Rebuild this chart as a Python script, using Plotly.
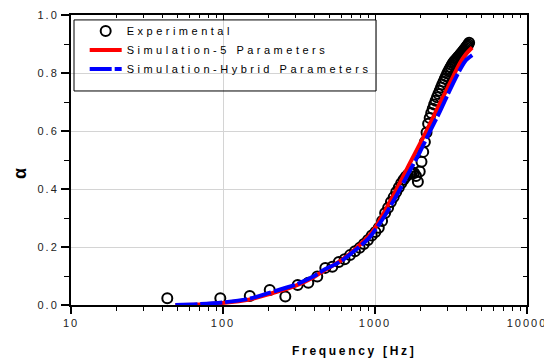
import plotly.graph_objects as go

# ---------------- data ----------------
freq_exp = [43, 96, 150, 203, 257, 310, 364, 417, 471, 524, 578, 631, 685, 738, 792,
            845, 899, 952, 1006, 1059, 1113, 1166, 1220, 1273, 1327, 1380, 1434, 1487,
            1541, 1594, 1648, 1701, 1755, 1808, 1862, 1915, 1969, 2022, 2076, 2129,
            2183, 2236, 2290, 2343, 2397, 2450, 2504, 2557, 2611, 2664, 2718, 2771,
            2825, 2878, 2932, 2985, 3039, 3092, 3146, 3199, 3253, 3306, 3360, 3413,
            3467, 3520, 3574, 3627, 3681, 3734, 3788, 3841, 3895, 3948, 4002, 4055,
            4109, 4163]
alpha_exp = [0.023, 0.023, 0.031, 0.052, 0.029, 0.069, 0.077, 0.098, 0.128, 0.132,
             0.148, 0.158, 0.172, 0.185, 0.197, 0.210, 0.224, 0.240, 0.252, 0.266,
             0.290, 0.317, 0.335, 0.355, 0.372, 0.390, 0.405, 0.420, 0.432, 0.442,
             0.450, 0.455, 0.458, 0.455, 0.445, 0.425, 0.460, 0.494, 0.528, 0.562,
             0.595, 0.625, 0.645, 0.662, 0.677, 0.691, 0.704, 0.716, 0.728, 0.739,
             0.750, 0.760, 0.770, 0.780, 0.789, 0.798, 0.806, 0.814, 0.821, 0.828,
             0.834, 0.839, 0.843, 0.847, 0.851, 0.855, 0.859, 0.863, 0.867, 0.871,
             0.875, 0.879, 0.883, 0.887, 0.891, 0.895, 0.899, 0.904]

freq_sim = [48.6, 70, 99.6, 150, 196, 296, 395, 465, 584, 730, 918, 1006, 1154,
            1448, 1683, 1963, 2290, 2670, 3110, 3630, 3980, 4360]
alpha_sim5 = [0.0, 0.002, 0.007, 0.019, 0.036, 0.065, 0.096, 0.120, 0.150, 0.190,
              0.240, 0.268, 0.322, 0.418, 0.486, 0.553, 0.623, 0.695, 0.765, 0.835,
              0.866, 0.888]
alpha_hybrid = [0.0, 0.003, 0.009, 0.022, 0.040, 0.069, 0.099, 0.122, 0.148, 0.186,
                0.232, 0.260, 0.306, 0.396, 0.460, 0.525, 0.597, 0.667, 0.742, 0.812,
                0.845, 0.862]

x_tick_vals = [10, 100, 1000, 10000]
x_tick_text = ["10", "100", "1000", "10000"]
y_tick_vals = [0.0, 0.2, 0.4, 0.6, 0.8, 1.0]
y_tick_text = ["0.0", "0.2", "0.4", "0.6", "0.8", "1.0"]

series_names = ["Experimental", "Simulation-5 Parameters", "Simulation-Hybrid Parameters"]

FONT = "Arial, Liberation Sans, sans-serif"


def spaced(t, ls):
    return '<span style="letter-spacing:%spx">%s</span>' % (ls, t)


fig = go.Figure()
fig.add_trace(go.Scatter(
    x=freq_exp, y=alpha_exp, mode="markers", name=spaced(series_names[0], 3.5),
    marker=dict(symbol="circle-open", size=10, color="black",
                line=dict(width=2, color="black"))))
fig.add_trace(go.Scatter(
    x=freq_sim, y=alpha_sim5, mode="lines", name=spaced(series_names[1], 3.5),
    line=dict(color="#ff0000", width=4, shape="spline", smoothing=0.9)))
fig.add_trace(go.Scatter(
    x=freq_sim, y=alpha_hybrid, mode="lines", name=spaced(series_names[2], 3.5),
    line=dict(color="#0000ff", width=4, shape="spline", smoothing=0.9,
              dash="22px,3px")))
# helper trace so the mirrored (top/right) axes get drawn
fig.add_trace(go.Scatter(x=[100], y=[0.5], xaxis="x2", yaxis="y2", mode="markers",
                         marker=dict(opacity=0), showlegend=False, hoverinfo="skip"))

# the page body adds an 8px margin, so the figure is 544x355 inside the 552x363 window
fig.update_layout(
    width=544, height=355,
    margin=dict(l=63, r=25, t=7, b=58, autoexpand=False),
    paper_bgcolor="white", plot_bgcolor="white",
    font=dict(family=FONT, color="black", size=11),
    showlegend=True,
    legend=dict(x=0.03, y=0.995, xanchor="left", yanchor="top",
                bgcolor="rgba(0,0,0,0)", borderwidth=0,
                font=dict(family=FONT, size=11, color="black"),
                tracegroupgap=0, itemwidth=32),
    xaxis=dict(type="log", range=[1, 4], tickvals=x_tick_vals, automargin=False,
               ticktext=[spaced(t, 2) for t in x_tick_text],
               ticks="outside", ticklen=7, tickwidth=1.5, tickcolor="black",
               showline=True, linecolor="black", linewidth=2,
               showgrid=True, gridcolor="#d4d4d4", gridwidth=1, zeroline=False,
               tickfont=dict(family=FONT, size=11, color="#222"),
               minor=dict(ticks="outside", ticklen=4, tickwidth=1, tickcolor="black",
                          dtick="D1", showgrid=False)),
    yaxis=dict(range=[0, 1], tickvals=y_tick_vals, automargin=False,
               ticktext=[spaced(t, 2) for t in y_tick_text],
               ticks="outside", ticklen=8, tickwidth=1.5, tickcolor="black",
               showline=True, linecolor="black", linewidth=2,
               showgrid=True, gridcolor="#d4d4d4", gridwidth=1, zeroline=False,
               tickfont=dict(family=FONT, size=11, color="#222"),
               minor=dict(ticks="outside", ticklen=5, tickwidth=1, tickcolor="black",
                          dtick=0.1, showgrid=False)),
    xaxis2=dict(type="log", range=[1, 4], overlaying="x", side="top", automargin=False,
                tickvals=x_tick_vals, ticks="inside", ticklen=5, tickwidth=1,
                tickcolor="black", showticklabels=False, showline=True,
                linecolor="black", linewidth=1.5, showgrid=False, zeroline=False,
                minor=dict(ticks="inside", ticklen=3, tickwidth=1, tickcolor="black",
                           dtick="D1", showgrid=False)),
    yaxis2=dict(range=[0, 1], overlaying="y", side="right", tickvals=y_tick_vals,
                automargin=False,
                ticks="inside", ticklen=6, tickwidth=1, tickcolor="black",
                showticklabels=False, showline=True, linecolor="black",
                linewidth=1.5, showgrid=False, zeroline=False,
                minor=dict(ticks="inside", ticklen=4, tickwidth=1, tickcolor="black",
                           dtick=0.1, showgrid=False)),
    shapes=[dict(type="rect", xref="paper", yref="paper",
                 x0=0.0066, x1=0.669, y0=0.738, y1=0.983,
                 line=dict(color="black", width=1), fillcolor="rgba(0,0,0,0)")],
    annotations=[
        dict(text="<b>α</b>", xref="paper", yref="paper", x=-0.112, y=0.455,
             xanchor="center", yanchor="middle", showarrow=False, textangle=-90,
             font=dict(family=FONT, size=18, color="black")),
        dict(text="<b>" + spaced("Frequency [Hz]", 2.7) + "</b>", xref="paper",
             yref="paper", x=0.6206, y=-0.1586, xanchor="center", yanchor="middle",
             showarrow=False, font=dict(family=FONT, size=12, color="black")),
    ],
)

fig.write_html("out.html")
